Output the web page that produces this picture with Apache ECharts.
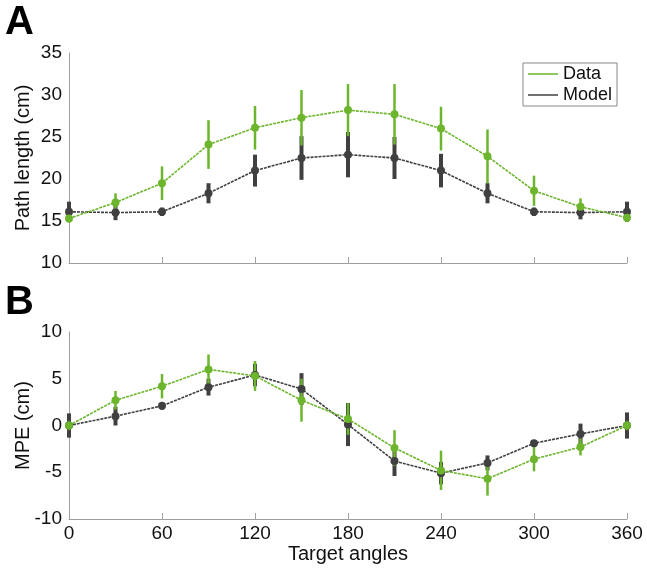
<!DOCTYPE html>
<html>
<head>
<meta charset="utf-8">
<script src="https://cdn.jsdelivr.net/npm/echarts@6/dist/echarts.min.js"></script>
<style>
  html, body { margin: 0; padding: 0; background: #fff; }
  #main { width: 647px; height: 572px; }
</style>
</head>
<body>
<div id="main"></div>
<script>
var angles = [0, 30, 60, 90, 120, 150, 180, 210, 240, 270, 300, 330, 360];

// panel A: path length (cm)
var pathData = [15.3, 17.2, 19.5, 24.1, 26.1, 27.3, 28.2, 27.7, 26.0, 22.7, 18.6, 16.7, 15.4];
var pathDataErr = [0.5, 1.1, 2.0, 2.9, 2.6, 3.3, 3.1, 3.6, 2.6, 3.2, 1.8, 1.0, 0.5];
var pathModel = [16.1, 16.0, 16.1, 18.3, 21.0, 22.5, 22.9, 22.5, 21.0, 18.3, 16.1, 16.0, 16.1];
var pathModelErr = [1.2, 0.9, 0.5, 1.2, 1.9, 2.6, 2.7, 2.5, 2.0, 1.2, 0.5, 0.8, 1.2];

// panel B: MPE (cm)
var mpeData = [0.0, 2.7, 4.2, 6.0, 5.3, 2.7, 0.7, -2.4, -4.8, -5.7, -3.6, -2.3, 0.0];
var mpeDataErr = [0.5, 1.0, 1.3, 1.6, 1.6, 2.3, 1.7, 1.9, 2.1, 1.8, 1.3, 0.9, 0.5];
var mpeModel = [0.0, 1.0, 2.1, 4.1, 5.4, 3.9, 0.1, -3.8, -5.1, -4.0, -1.9, -0.9, 0.0];
var mpeModelErr = [1.3, 1.0, 0.4, 0.9, 1.2, 1.7, 2.3, 1.6, 1.2, 0.8, 0.3, 1.1, 1.4];

var green = '#6cb52d';
var dark = '#404040';
var font = 'Liberation Sans, Arial, sans-serif';

function pts(vals) {
  return angles.map(function (a, i) { return [a, vals[i]]; });
}
function bars(vals, errs) {
  return angles.map(function (a, i) { return [a, vals[i] - errs[i], vals[i] + errs[i]]; });
}
function errSeries(idx, vals, errs, color, width) {
  return {
    type: 'custom',
    xAxisIndex: idx, yAxisIndex: idx,
    data: bars(vals, errs),
    silent: true,
    renderItem: function (params, api) {
      var p1 = api.coord([api.value(0), api.value(1)]);
      var p2 = api.coord([api.value(0), api.value(2)]);
      return {
        type: 'line',
        shape: { x1: p1[0], y1: p1[1], x2: p2[0], y2: p2[1] },
        style: { stroke: color, lineWidth: width }
      };
    }
  };
}
function lineSeries(name, idx, vals, color) {
  return {
    name: name,
    type: 'line',
    xAxisIndex: idx, yAxisIndex: idx,
    data: pts(vals),
    symbol: 'circle',
    symbolSize: 8,
    itemStyle: { color: color },
    lineStyle: { color: color, width: 1.6, type: [3, 1] },
    silent: true
  };
}

var axisLine = { onZero: false, lineStyle: { color: '#a0a0a0', width: 1 } };
var labelStyle = { color: '#111', fontSize: 19, fontFamily: font };
var nameStyle = { color: '#111', fontSize: 20, fontFamily: font };

var chart = echarts.init(document.getElementById('main'));
chart.setOption({
  animation: false,
  backgroundColor: '#fff',
  grid: [
    { left: 69, right: 20, top: 53, height: 210, outerBoundsMode: 'none', containLabel: false },
    { left: 69, right: 20, top: 332, height: 187, outerBoundsMode: 'none', containLabel: false }
  ],
  xAxis: [
    { gridIndex: 0, type: 'value', min: 0, max: 360, interval: 60,
      axisLine: axisLine, axisTick: { inside: true, length: 6, lineStyle: { color: '#a0a0a0' } },
      axisLabel: { show: false }, splitLine: { show: false } },
    { gridIndex: 1, type: 'value', min: 0, max: 360, interval: 60,
      axisLine: axisLine, axisTick: { inside: true, length: 6, lineStyle: { color: '#a0a0a0' } },
      axisLabel: Object.assign({ margin: 5 }, labelStyle), splitLine: { show: false },
      name: 'Target angles', nameLocation: 'middle', nameGap: 25, nameMoveOverlap: false,
      nameTextStyle: nameStyle }
  ],
  yAxis: [
    { gridIndex: 0, type: 'value', min: 10, max: 35, interval: 5,
      axisLine: Object.assign({ show: true }, axisLine), axisTick: { show: false },
      axisLabel: Object.assign({ margin: 7 }, labelStyle), splitLine: { show: false },
      name: 'Path length (cm)', nameLocation: 'middle', nameGap: 36, nameMoveOverlap: false,
      nameTextStyle: nameStyle },
    { gridIndex: 1, type: 'value', min: -10, max: 10, interval: 5,
      axisLine: Object.assign({ show: true }, axisLine), axisTick: { show: false },
      axisLabel: Object.assign({ margin: 7 }, labelStyle), splitLine: { show: false },
      name: 'MPE (cm)', nameLocation: 'middle', nameGap: 36, nameMoveOverlap: false,
      nameTextStyle: nameStyle }
  ],
  legend: {
    left: 523, top: 63,
    orient: 'vertical',
    data: [
      { name: 'Data', icon: 'rect', itemStyle: { color: green } },
      { name: 'Model', icon: 'rect', itemStyle: { color: dark } }
    ],
    itemWidth: 30, itemHeight: 1.5, itemGap: 3,
    padding: [2, 5, 2, 5],
    borderColor: '#888', borderWidth: 1,
    textStyle: { color: '#111', fontSize: 18, fontFamily: font }
  },
  graphic: [
    { type: 'text', left: 5, top: 3, style: { text: 'A', font: 'bold 40px ' + font, fill: '#000' } },
    { type: 'text', left: 5, top: 283, style: { text: 'B', font: 'bold 40px ' + font, fill: '#000' } }
  ],
  series: [
    errSeries(0, pathModel, pathModelErr, dark, 4),
    lineSeries('Model', 0, pathModel, dark),
    errSeries(0, pathData, pathDataErr, green, 2.5),
    lineSeries('Data', 0, pathData, green),
    errSeries(1, mpeModel, mpeModelErr, dark, 4),
    lineSeries('Model', 1, mpeModel, dark),
    errSeries(1, mpeData, mpeDataErr, green, 2.5),
    lineSeries('Data', 1, mpeData, green)
  ]
});
</script>
</body>
</html>
